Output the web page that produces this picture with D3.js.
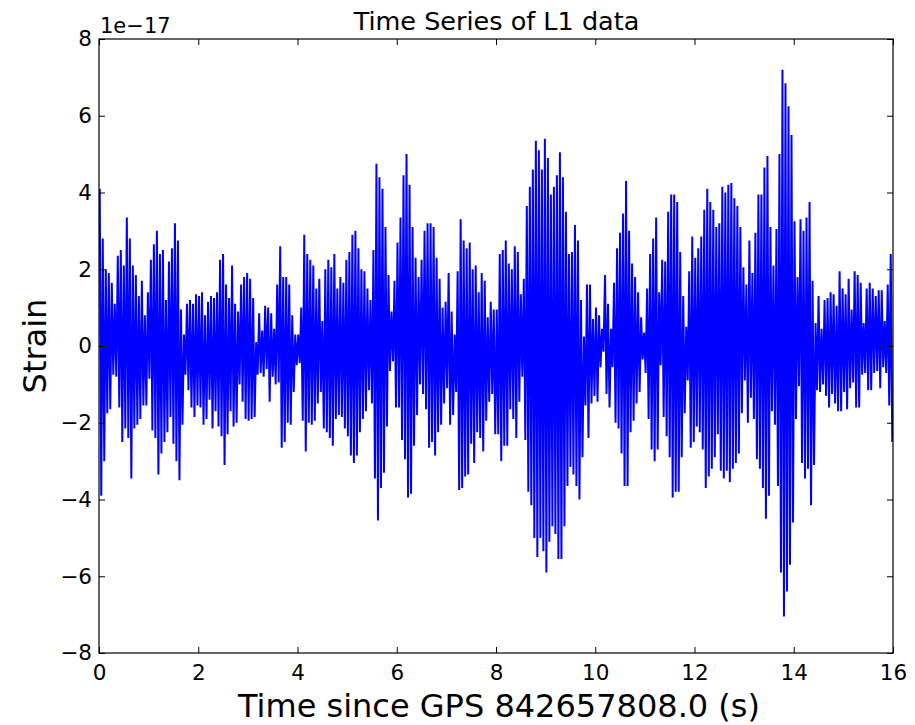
<!DOCTYPE html>
<html>
<head>
<meta charset="utf-8">
<script src="https://cdn.jsdelivr.net/npm/d3@7"></script>
<style>
  html, body { margin: 0; padding: 0; background: #fff; }
  svg text { font-family: "DejaVu Sans", sans-serif; fill: #000; }
</style>
</head>
<body>
<svg id="chart" width="915" height="725"></svg>
<script>
// L1 strain, in units of 1e-17, as alternating crest / trough values.
// Each row covers two seconds (33 crests, 33 troughs).
const crests = [
  4.1,2.8,2.0,1.9,1.65,1.1,2.35,2.5,2.1,3.35,2.8,2.1,1.85,1.3,1.7,0.8,1.4,2.25,2.65,3.0,2.4,2.5,1.2,2.2,2.55,3.2,2.75,0.95,0.3,1.1,1.2,1.1,1.35,
  1.3,1.4,0.8,1.15,1.3,1.25,1.4,2.25,2.4,1.6,1.25,2.1,1.1,0.9,1.6,1.8,1.9,1.75,1.25,0.1,0.85,0.4,1.05,1.0,0.85,0.45,1.6,2.6,1.8,1.8,1.6,0.8,0.3,
  0.3,1.0,2.9,2.4,2.25,2.1,1.5,1.75,0.65,2.0,2.25,2.05,2.4,1.5,1.8,1.65,2.25,2.45,2.9,3.0,2.55,2.0,1.95,1.5,1.2,2.5,4.75,4.4,4.1,3.1,1.85,0.9,1.7,
  2.7,3.35,4.45,5.0,4.2,3.1,2.3,1.8,2.25,3.0,3.2,3.2,3.1,2.3,1.75,1.0,1.15,1.9,0.9,0.3,1.95,3.3,2.75,2.55,2.7,2.0,2.1,1.4,1.9,1.7,0.75,1.15,0.95,
  0.95,2.4,2.5,2.75,2.15,2.0,2.6,2.45,1.35,1.75,3.65,4.15,4.6,5.35,5.1,4.6,5.4,4.9,3.95,4.15,4.45,5.05,4.4,3.5,2.4,2.45,3.15,2.75,1.2,0.25,1.6,1.6,0.7,
  1.0,0.8,0.45,1.85,1.1,0.45,1.65,2.55,2.95,3.45,4.3,3.0,2.15,1.8,1.4,0.75,0.35,1.5,2.4,2.8,3.35,1.4,2.25,2.2,3.5,3.95,3.95,3.75,2.45,1.3,0.5,1.95,2.85,
  2.3,2.55,2.85,3.55,4.1,3.75,3.55,3.1,3.2,4.15,4.0,4.2,4.25,3.85,3.65,3.1,2.05,1.6,2.75,1.9,2.95,3.95,3.95,4.65,4.95,3.1,2.1,3.05,5.0,7.2,6.85,6.25,5.5,
  3.25,1.8,3.3,3.0,3.35,3.75,1.7,0.6,1.3,0.45,1.2,1.25,1.4,1.35,1.05,1.95,1.5,1.35,1.75,0.95,1.95,1.85,1.65,0.6,1.5,1.65,1.5,1.3,1.45,1.45,0.65,1.6,2.4
];
const troughs = [
  -3.9,-3.0,-1.75,-1.65,-0.75,-0.8,-1.6,-2.5,-2.15,-2.4,-3.45,-2.15,-2.05,-1.9,-1.55,-1.55,-0.85,-2.2,-2.4,-3.35,-2.8,-2.5,-2.25,-1.85,-2.55,-3.0,-3.5,-2.05,-0.75,-1.15,-1.6,-1.85,-1.55,
  -1.6,-2.05,-1.9,-1.4,-2.15,-1.7,-2.1,-2.35,-3.1,-2.3,-1.7,-2.1,-2.0,-1.0,-1.45,-1.9,-1.95,-1.9,-1.85,-0.75,-0.7,-0.8,-0.6,-1.45,-0.8,-1.0,-0.95,-2.65,-2.5,-2.0,-2.05,-1.2,-0.5,
  -0.45,-1.95,-2.75,-2.0,-2.05,-1.95,-1.5,-1.2,-2.15,-2.25,-2.4,-2.6,-1.9,-1.8,-1.85,-2.15,-2.35,-2.85,-3.05,-2.85,-2.25,-1.9,-1.7,-1.15,-1.5,-3.45,-4.55,-3.7,-3.3,-2.1,-0.65,-0.4,-1.6,
  -1.6,-2.45,-2.95,-3.95,-3.85,-2.6,-1.8,-1.0,-1.25,-1.65,-2.65,-2.5,-2.85,-2.25,-2.05,-1.5,-1.1,-2.05,-1.8,-1.2,-3.75,-3.7,-3.4,-3.35,-2.55,-3.05,-2.25,-2.4,-2.75,-1.95,-1.45,-1.25,-2.3,
  -2.3,-3.0,-2.6,-2.6,-1.65,-1.9,-2.4,-1.45,-0.8,-2.45,-3.8,-4.15,-5.0,-5.5,-5.0,-5.35,-5.9,-5.1,-4.7,-4.9,-5.55,-5.55,-4.7,-3.65,-3.15,-3.35,-3.65,-4.0,-2.9,-1.55,-2.4,-1.5,-1.3,
  -1.45,-0.55,-0.15,-1.25,-1.6,-0.55,-2.0,-2.15,-2.8,-3.65,-3.65,-2.25,-1.95,-1.5,-1.2,-0.35,-0.7,-1.9,-2.7,-3.0,-2.7,-0.5,-1.85,-2.35,-2.9,-3.95,-3.8,-3.8,-2.9,-1.75,-0.9,-2.65,-2.5,
  -2.1,-2.25,-2.7,-3.7,-3.4,-3.2,-2.9,-2.3,-3.25,-3.45,-3.25,-3.55,-3.2,-3.05,-2.8,-1.75,-0.9,-2.0,-1.35,-1.9,-2.95,-3.2,-3.7,-4.5,-3.9,-1.7,-2.05,-3.65,-5.9,-7.05,-6.4,-5.7,-4.6,
  -1.9,-1.05,-3.05,-3.45,-3.2,-4.15,-3.1,-1.15,-1.2,-1.0,-1.3,-1.6,-1.25,-1.5,-1.7,-1.7,-1.2,-1.65,-1.1,-0.95,-1.6,-1.6,-0.75,-0.7,-1.15,-1.15,-0.7,-0.65,-1.1,-0.55,-0.7,-1.55,-2.5
];
const xTicks = [0, 2, 4, 6, 8, 10, 12, 14, 16];
const yTicks = [-8, -6, -4, -2, 0, 2, 4, 6, 8];
const duration = 16;           // seconds shown
const titleText = "Time Series of L1 data";
const xLabelText = "Time since GPS 842657808.0 (s)";
const yLabelText = "Strain";
const offsetText = "1e\u221217";

// Interleave crests and troughs on the sampling grid.
const period = duration / crests.length;
const series = [];
crests.forEach((c, i) => {
  series.push({ t: (i + 0.25) * period, v: c });
  series.push({ t: (i + 0.75) * period, v: troughs[i] });
});

const svg = d3.select("#chart");
const m = { left: 99, right: 893, top: 39, bottom: 653 };

const x = d3.scaleLinear().domain([0, duration]).range([m.left, m.right]);
const y = d3.scaleLinear().domain([-8, 8]).range([m.bottom, m.top]);

svg.append("defs").append("clipPath").attr("id", "plotClip")
  .append("rect").attr("x", m.left).attr("y", m.top)
  .attr("width", m.right - m.left).attr("height", m.bottom - m.top);

const line = d3.line().x(d => x(d.t)).y(d => y(d.v));
svg.append("path")
  .datum(series)
  .attr("clip-path", "url(#plotClip)")
  .attr("fill", "none")
  .attr("stroke", "#0000ff")
  .attr("stroke-width", 2)
  .attr("stroke-linejoin", "bevel")
  .attr("d", line);

// Axes: ticks point inward on all four sides.
const tickLen = 6;
const fmt = d => d < 0 ? "\u2212" + Math.abs(d) : String(d);

const bottomAxis = d3.axisBottom(x).tickValues(xTicks).tickSizeInner(-tickLen).tickSizeOuter(0).tickPadding(12).tickFormat(fmt);
const topAxis = d3.axisTop(x).tickValues(xTicks).tickSizeInner(-tickLen).tickSizeOuter(0).tickFormat("");
const leftAxis = d3.axisLeft(y).tickValues(yTicks).tickSizeInner(-tickLen).tickSizeOuter(0).tickPadding(7).tickFormat(fmt);
const rightAxis = d3.axisRight(y).tickValues(yTicks).tickSizeInner(-tickLen).tickSizeOuter(0).tickFormat("");

function styleAxis(g) {
  g.select(".domain").remove();
  g.selectAll(".tick line").attr("stroke", "#000").attr("stroke-width", 1);
  g.selectAll(".tick text").style("font-size", "21.5px").style("font-family", "DejaVu Sans");
}

svg.append("g").attr("transform", `translate(0,${m.bottom})`).call(bottomAxis).call(styleAxis);
svg.append("g").attr("transform", `translate(0,${m.top})`).call(topAxis).call(styleAxis);
svg.append("g").attr("transform", `translate(${m.left},0)`).call(leftAxis).call(styleAxis);
svg.append("g").attr("transform", `translate(${m.right},0)`).call(rightAxis).call(styleAxis);

// Frame
svg.append("rect")
  .attr("x", m.left).attr("y", m.top)
  .attr("width", m.right - m.left).attr("height", m.bottom - m.top)
  .attr("fill", "none").attr("stroke", "#000").attr("stroke-width", 1.2);

// Texts
svg.append("text").attr("x", (m.left + m.right) / 2 + 0.5).attr("y", 30)
  .attr("text-anchor", "middle").style("font-size", "25.5px").text(titleText);
svg.append("text").attr("x", 100).attr("y", 33)
  .style("font-size", "21px").text(offsetText);
svg.append("text").attr("x", (m.left + m.right) / 2 + 3).attr("y", 717)
  .attr("text-anchor", "middle").style("font-size", "32px").text(xLabelText);
svg.append("text")
  .attr("transform", `translate(46,${(m.top + m.bottom) / 2}) rotate(-90)`)
  .attr("text-anchor", "middle").style("font-size", "32px").text(yLabelText);
</script>
</body>
</html>
